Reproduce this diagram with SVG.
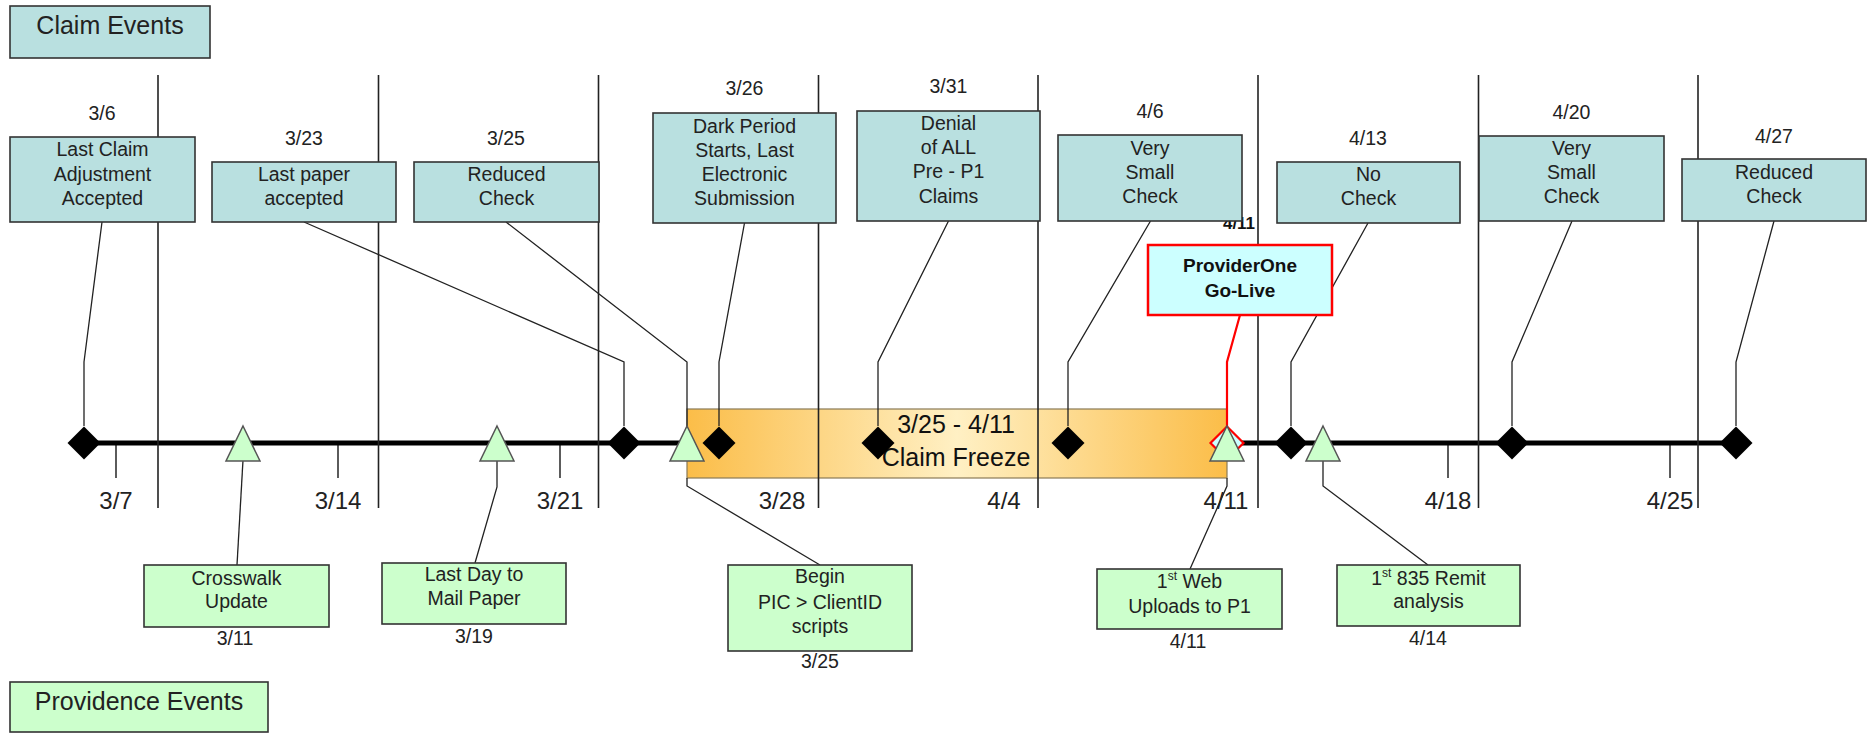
<svg xmlns="http://www.w3.org/2000/svg" width="1867" height="733" viewBox="0 0 1867 733">
<style>
text{font-family:"Liberation Sans",Arial,sans-serif;fill:#222;text-anchor:middle}
.hdr{font-size:25px}
.bt{font-size:19.5px}
.dt{font-size:19.5px}
.tk{font-size:24px}
.fz{font-size:25px;fill:#111}
.gl{font-size:19px;font-weight:bold;fill:#111}
.claim{fill:#b9e0e0;stroke:#333;stroke-width:1.6}
.prov{fill:#ccffcc;stroke:#333;stroke-width:1.6}
.grid{stroke:#222;stroke-width:1.6}
.tick{stroke:#333;stroke-width:1.6}
.lead{fill:none;stroke:#222;stroke-width:1.3}
.dia{fill:#000}
.tri{fill:#ccffcc;stroke:#555;stroke-width:1.5}
</style>
<defs>
<linearGradient id="freeze" x1="0" y1="0" x2="1" y2="0">
<stop offset="0" stop-color="#fbbd48"/>
<stop offset="0.5" stop-color="#fff0c4"/>
<stop offset="1" stop-color="#fbbd48"/>
</linearGradient>
<path id="diamond" d="M0,-16.5 L16.5,0 L0,16.5 L-16.5,0 Z"/>
<path id="triangle" d="M0,-17 L17,18 L-17,18 Z"/>
</defs>
<rect width="1867" height="733" fill="#ffffff"/>

<g id="headers">
<g id="claim-events"><rect class="claim" x="10" y="6" width="200" height="52"/><text class="hdr" x="110" y="34">Claim Events</text></g>
<g id="providence-events"><rect class="prov" x="10" y="682" width="258" height="50"/><text class="hdr" x="139" y="710">Providence Events</text></g>
</g>

<g id="timeline">
<g id="ticks">
<line class="tick" x1="116" y1="443" x2="116" y2="478"/>
<line class="tick" x1="338" y1="443" x2="338" y2="478"/>
<line class="tick" x1="560" y1="443" x2="560" y2="478"/>
<line class="tick" x1="782" y1="443" x2="782" y2="478"/>
<line class="tick" x1="1004" y1="443" x2="1004" y2="478"/>
<line class="tick" x1="1226" y1="443" x2="1226" y2="478"/>
<line class="tick" x1="1448" y1="443" x2="1448" y2="478"/>
<line class="tick" x1="1670" y1="443" x2="1670" y2="478"/>
</g>
<line x1="84" y1="443" x2="1736" y2="443" stroke="#000" stroke-width="5"/>
<g id="tick-labels">
<text class="tk" x="116" y="509">3/7</text>
<text class="tk" x="338" y="509">3/14</text>
<text class="tk" x="560" y="509">3/21</text>
<text class="tk" x="782" y="509">3/28</text>
<text class="tk" x="1004" y="509">4/4</text>
<text class="tk" x="1226" y="509">4/11</text>
<text class="tk" x="1448" y="509">4/18</text>
<text class="tk" x="1670" y="509">4/25</text>
</g>
</g>

<g id="claim-freeze">
<rect x="687" y="409" width="540" height="69" fill="url(#freeze)" stroke="#8a7a55" stroke-width="1.2"/>
<text class="fz" x="956" y="433">3/25 - 4/11</text>
<text class="fz" x="956" y="466">Claim Freeze</text>
</g>

<g id="gridlines">
<line class="grid" x1="158" y1="75" x2="158" y2="508"/>
<line class="grid" x1="378.5" y1="75" x2="378.5" y2="508"/>
<line class="grid" x1="598.5" y1="75" x2="598.5" y2="508"/>
<line class="grid" x1="818.5" y1="75" x2="818.5" y2="508"/>
<line class="grid" x1="1038" y1="75" x2="1038" y2="508"/>
<line class="grid" x1="1258" y1="75" x2="1258" y2="508" stroke="#000"/>
<line class="grid" x1="1478.5" y1="75" x2="1478.5" y2="508"/>
<line class="grid" x1="1698" y1="75" x2="1698" y2="508"/>
</g>

<g id="connectors">
<polyline class="lead" points="102,222 84,362 84,426"/>
<polyline class="lead" points="304,222 624,362 624,426"/>
<polyline class="lead" points="506,222 687,362 687,426"/>
<polyline class="lead" points="744.5,223 719,362 719,426"/>
<polyline class="lead" points="948.5,221 878,362 878,426"/>
<polyline class="lead" points="1150.5,221 1068,362 1068,426"/>
<polyline class="lead" points="1368,223 1291,362 1291,426"/>
<polyline class="lead" points="1572,221 1512,362 1512,426"/>
<polyline class="lead" points="1774,221 1736,362 1736,426"/>
<polyline class="lead" points="243,460 237,565"/>
<polyline class="lead" points="497,460 497,487 475,563"/>
<polyline class="lead" points="687,478 687,486 820,565"/>
<polyline class="lead" points="1227,478 1227,486 1190,569"/>
<polyline class="lead" points="1323,460 1323,486 1428,565"/>
<polyline fill="none" stroke="#ff0000" stroke-width="2.2" points="1240,315 1227,362 1227,427"/>
</g>

<g id="milestones">
<use href="#diamond" class="dia" x="84" y="443"/>
<use href="#diamond" class="dia" x="624" y="443"/>
<use href="#diamond" class="dia" x="719" y="443"/>
<use href="#diamond" class="dia" x="878" y="443"/>
<use href="#diamond" class="dia" x="1068" y="443"/>
<use href="#diamond" class="dia" x="1291" y="443"/>
<use href="#diamond" class="dia" x="1512" y="443"/>
<use href="#diamond" class="dia" x="1736" y="443"/>
<use href="#diamond" x="1227" y="443" fill="#ccffff" stroke="#ff0000" stroke-width="2.2"/>
<use href="#triangle" class="tri" x="243" y="443"/>
<use href="#triangle" class="tri" x="497" y="443"/>
<use href="#triangle" class="tri" x="687" y="443"/>
<use href="#triangle" class="tri" x="1227" y="443"/>
<use href="#triangle" class="tri" x="1323" y="443"/>
</g>

<text class="gl" x="1239" y="229" style="font-size:17px">4/11</text>

<g id="claim-3-6"><text class="dt" x="102" y="120">3/6</text><rect class="claim" x="10" y="137" width="185" height="85"/>
<text class="bt" x="102.5" y="156">Last Claim</text><text class="bt" x="102.5" y="181">Adjustment</text><text class="bt" x="102.5" y="205">Accepted</text></g>
<g id="claim-3-23"><text class="dt" x="304" y="145">3/23</text><rect class="claim" x="212" y="162" width="184" height="60"/>
<text class="bt" x="304" y="181">Last paper</text><text class="bt" x="304" y="205">accepted</text></g>
<g id="claim-3-25"><text class="dt" x="506" y="145">3/25</text><rect class="claim" x="414" y="162" width="185" height="60"/>
<text class="bt" x="506.5" y="181">Reduced</text><text class="bt" x="506.5" y="205">Check</text></g>
<g id="claim-3-26"><text class="dt" x="744.5" y="95">3/26</text><rect class="claim" x="653" y="113" width="183" height="110"/>
<text class="bt" x="744.5" y="133">Dark Period</text><text class="bt" x="744.5" y="157">Starts, Last</text><text class="bt" x="744.5" y="181">Electronic</text><text class="bt" x="744.5" y="205">Submission</text></g>
<g id="claim-3-31"><text class="dt" x="948.5" y="93">3/31</text><rect class="claim" x="857" y="111" width="183" height="110"/>
<text class="bt" x="948.5" y="130">Denial</text><text class="bt" x="948.5" y="154">of ALL</text><text class="bt" x="948.5" y="178">Pre - P1</text><text class="bt" x="948.5" y="203">Claims</text></g>
<g id="claim-4-6"><text class="dt" x="1150" y="118">4/6</text><rect class="claim" x="1058" y="135" width="184" height="86"/>
<text class="bt" x="1150" y="155">Very</text><text class="bt" x="1150" y="179">Small</text><text class="bt" x="1150" y="203">Check</text></g>
<g id="claim-4-13"><text class="dt" x="1368" y="145">4/13</text><rect class="claim" x="1277" y="162" width="183" height="61"/>
<text class="bt" x="1368.5" y="181">No</text><text class="bt" x="1368.5" y="205">Check</text></g>
<g id="claim-4-20"><text class="dt" x="1571.5" y="119">4/20</text><rect class="claim" x="1479" y="136" width="185" height="85"/>
<text class="bt" x="1571.5" y="155">Very</text><text class="bt" x="1571.5" y="179">Small</text><text class="bt" x="1571.5" y="203">Check</text></g>
<g id="claim-4-27"><text class="dt" x="1774" y="143">4/27</text><rect class="claim" x="1682" y="159" width="184" height="62"/>
<text class="bt" x="1774" y="179">Reduced</text><text class="bt" x="1774" y="203">Check</text></g>

<g id="go-live"><rect x="1148" y="245" width="184" height="70" fill="#ccffff" stroke="#ff0000" stroke-width="2.5"/>
<text class="gl" x="1240" y="272">ProviderOne</text><text class="gl" x="1240" y="297">Go-Live</text></g>

<g id="prov-3-11"><rect class="prov" x="144" y="565" width="185" height="62"/>
<text class="bt" x="236.5" y="585">Crosswalk</text><text class="bt" x="236.5" y="608">Update</text><text class="dt" x="235" y="645">3/11</text></g>
<g id="prov-3-19"><rect class="prov" x="382" y="563" width="184" height="61"/>
<text class="bt" x="474" y="581">Last Day to</text><text class="bt" x="474" y="605">Mail Paper</text><text class="dt" x="474" y="643">3/19</text></g>
<g id="prov-3-25"><rect class="prov" x="728" y="565" width="184" height="86"/>
<text class="bt" x="820" y="583">Begin</text><text class="bt" x="820" y="609">PIC &gt; ClientID</text><text class="bt" x="820" y="633">scripts</text><text class="dt" x="820" y="668">3/25</text></g>
<g id="prov-4-11"><rect class="prov" x="1097" y="569" width="185" height="60"/>
<text class="bt" x="1189.5" y="588">1<tspan font-size="12" dy="-8">st</tspan><tspan dy="8"> Web</tspan></text><text class="bt" x="1189.5" y="613">Uploads to P1</text><text class="dt" x="1188" y="648">4/11</text></g>
<g id="prov-4-14"><rect class="prov" x="1337" y="565" width="183" height="61"/>
<text class="bt" x="1428.5" y="585">1<tspan font-size="12" dy="-8">st</tspan><tspan dy="8"> 835 Remit</tspan></text><text class="bt" x="1428.5" y="608">analysis</text><text class="dt" x="1428" y="645">4/14</text></g>
</svg>
